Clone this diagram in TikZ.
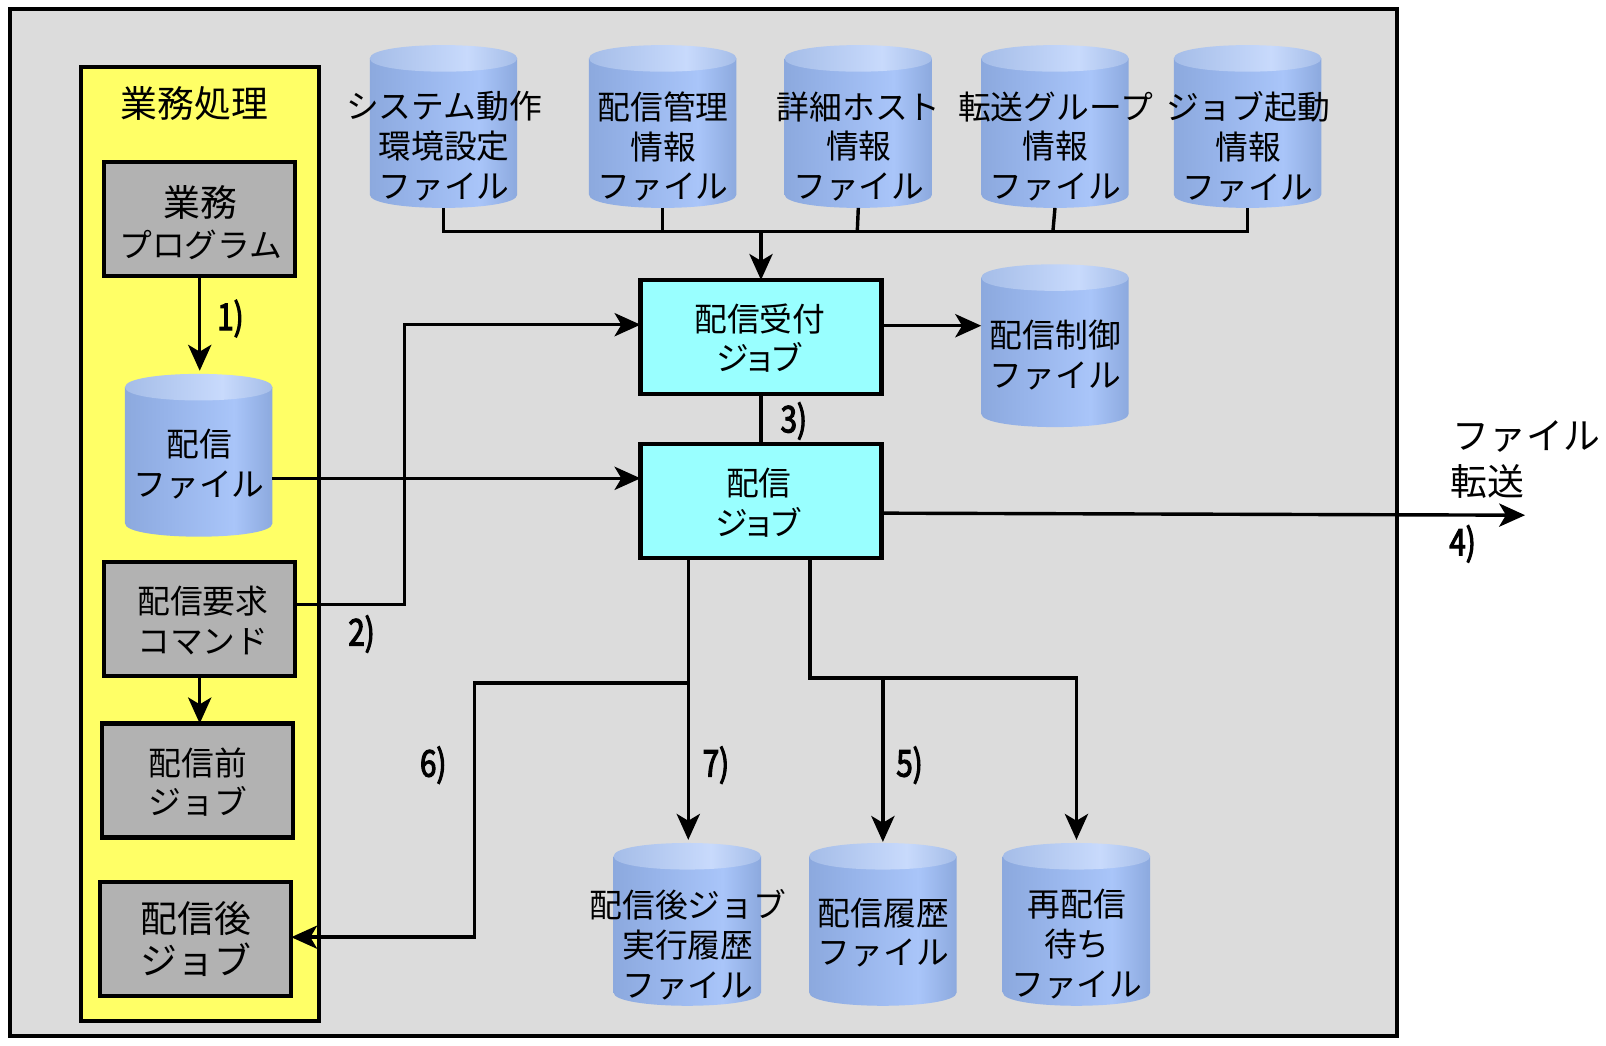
\documentclass[tikz,border=0pt]{standalone}
\usepackage{fontspec}
\setmainfont{Noto Sans CJK JP}
\newfontfamily\numfont[FakeStretch=0.8,FakeBold=3]{Noto Sans CJK JP}
\usetikzlibrary{arrows.meta,calc}
\definecolor{framegray}{HTML}{DCDCDC}
\definecolor{bandyellow}{HTML}{FFFF66}
\definecolor{boxgray}{HTML}{B2B2B2}
\definecolor{jobcyan}{HTML}{99FFFF}
\definecolor{cylA}{HTML}{8CA9DE}
\definecolor{cylB}{HTML}{97B4EA}
\definecolor{cylC}{HTML}{A9C5F9}
\definecolor{cylD}{HTML}{A5BDE8}
\definecolor{cylE}{HTML}{C8DAFC}
\pgfdeclarehorizontalshading{cylbody}{100bp}{
  color(0bp)=(cylA); color(25bp)=(cylA); color(40bp)=(cylB); color(62bp)=(cylC); color(75bp)=(cylA); color(100bp)=(cylA)}
\pgfdeclarehorizontalshading{cyltop}{100bp}{
  color(0bp)=(cylD); color(25bp)=(cylD); color(58bp)=(cylE); color(75bp)=(cylD); color(100bp)=(cylD)}
% name, centre x, top y, text y, text
\newcommand{\drum}[5]{%
  \pgfmathsetmacro{\xl}{#2-72}\pgfmathsetmacro{\xr}{#2+72}%
  \pgfmathsetmacro{\yt}{#3+13}\pgfmathsetmacro{\ytt}{#3-4.3}\pgfmathsetmacro{\ytb}{#3+30.3}%
  \pgfmathsetmacro{\yb}{#3+159-13}\pgfmathsetmacro{\ybb}{#3+159+4.3}%
  \shade[shading=cylbody] (\xl,\yt) -- (\xl,\yb) .. controls (\xl,\ybb) and (\xr,\ybb) .. (\xr,\yb) -- (\xr,\yt) -- cycle;
  \shade[shading=cyltop] (\xl,\yt) .. controls (\xl,\ytt) and (\xr,\ytt) .. (\xr,\yt) .. controls (\xr,\ytb) and (\xl,\ytb) .. (\xl,\yt) -- cycle;
  \node[drumbox] (#1) at (#2,#3+79.5) {};
  \node[lbl] (#1-t) at (#2+0.5,#4) {#5};
}
\newcommand{\tightjob}{ジ\kern-4.5ptョ\kern-4.5ptブ}
\tikzset{
  lbl/.style={align=center,inner sep=0pt,font=\fontsize{24}{29.25}\selectfont},
  lblbig/.style={align=center,inner sep=0pt,font=\fontsize{27}{31}\selectfont},
  num/.style={inner sep=0pt,font=\numfont\fontsize{27}{30}\selectfont},
  drumbox/.style={inner sep=0pt,outer sep=0pt,minimum width=108pt,minimum height=119.25pt},
  graybox/.style={draw,line width=3pt,fill=boxgray,inner sep=0pt,outer sep=0pt,minimum width=140pt,minimum height=83.5pt},
  jobbox/.style={draw,line width=3pt,fill=jobcyan,inner sep=0pt,outer sep=0pt,minimum width=176.5pt,minimum height=83.5pt},
  conn/.style={line width=2.5pt,line join=miter},
  arr/.style={conn,-{Stealth[length=19pt,width=17pt,inset=5pt]}},
}
\begin{document}
\begin{tikzpicture}[x=0.75pt,y=-0.75pt]
\useasboundingbox (0,0) rectangle (1568,1020.3);
\node[draw,line width=3pt,fill=framegray,inner sep=0pt,outer sep=0pt,minimum width=1016pt,minimum height=752pt] (frame) at (687,510.5) {};
\node[draw,line width=3pt,fill=bandyellow,inner sep=0pt,outer sep=0pt,minimum width=174.5pt,minimum height=699pt] (band) at (195,531) {};
\node[lblbig] (title) at (190,101) {業務処理};

\node[graybox] (prog) at (195,214) {};
\node[graybox] (req) at (195,604) {};
\node[graybox] (pre) at (193,762) {};
\node[graybox] (post) at (191,916.5) {};
\node[jobbox] (recv) at (743,329) {};
\node[jobbox] (dist) at (743,489.5) {};
\node[lbl,font=\fontsize{24}{30}\selectfont] (prog-t) at (196,217) {{\fontsize{27}{30}\selectfont 業務}\\プログラム};
\node[lbl,font=\fontsize{24}{29}\selectfont] (req-t) at (198,606) {配信要求\\コマンド};
\node[lbl,font=\fontsize{24}{28.5}\selectfont] (pre-t) at (193,764) {配信前\\ジョブ};
\node[lblbig] (post-t) at (191.5,917) {配信後\\ジョブ};
\node[lbl,font=\fontsize{24}{28.5}\selectfont] (recv-t) at (742,330.5) {配信受付\\\tightjob};
\node[lbl,font=\fontsize{24}{29}\selectfont] (dist-t) at (741,491) {配信\\\tightjob};

\drum{sys}{433}{44}{143}{システム動作\\環境設定\\ファイル}
\drum{mgmt}{647}{44}{143}{配信管理\\情報\\ファイル}
\drum{host}{838}{44}{143}{詳細ホスト\\情報\\ファイル}
\drum{group}{1030}{44}{143}{転送グループ\\情報\\ファイル}
\drum{start}{1218}{44}{143}{ジョブ起動\\情報\\ファイル}
\drum{ctrl}{1030}{258}{346.5}{配信制御\\ファイル}
\drum{dfile}{194}{365}{453.5}{配信\\ファイル}
\drum{pjob}{671}{823}{922}{配信後ジョブ\\実行履歴\\ファイル}
\drum{hist}{862}{823}{910.5}{配信履歴\\ファイル}
\drum{wait}{1051}{823}{922}{再配信\\待ち\\ファイル}

% collector above the reception job
\coordinate (busL) at (sys.south |- 0,226);
\coordinate (busR) at (start.south |- 0,226);
\draw[conn] (sys.south) -- (busL) -- (busR) -- (start.south);
\draw[conn] (mgmt.south) -- (mgmt.south |- busL);
\draw[conn] (host.south) -- ($(host.south |- busL)+(-1,0)$);
\draw[conn] (group.south) -- ($(group.south |- busL)+(-2,0)$);
\draw[arr] (recv.north |- busL) -- (recv.north);

\draw[arr] (prog.south) -- ($(dfile.north)+(1,-3)$);
\coordinate (reqOut) at (req.east |- 0,590);
\coordinate (recvIn) at (recv.west |- 0,317);
\draw[arr] (reqOut) -- (395,590) -- (395,317) -- (recvIn);
\draw[arr] (dfile.east |- 0,467) -- (dist.west |- 0,467);
\draw[arr] (recv.east |- 0,318) -- (ctrl.west |- 0,318);
\draw[conn] (recv.south) -- (dist.north);
\coordinate (xfer) at (1489,503);
\draw[arr] (dist.east |- 0,501) -- (xfer);
\draw[arr] (req.south) -- (pre.north -| req.south);

\coordinate (d1) at (dist.south -| pjob.north);
\draw[arr] ($(d1)+(1,0)$) -- ($(pjob.north)+(1,-3)$);
\draw[arr] (672,667) -- (463,667) -- (463,915) -- (post.east |- 0,915);
\coordinate (d2) at (791,545);
\coordinate (fork) at (791,662);
\draw[arr] (d2) -- (fork) -- (1051,662) -- ($(wait.north)+(0,-3)$);
\draw[arr] (hist.north |- fork) -- ($(hist.north)+(0,-1)$);

\node[num] (n1) at (225,311) {1)};
\node[num] (n2) at (353,619) {2)};
\node[num] (n3) at (775,411) {3)};
\node[num] (n4) at (1428,531) {4)};
\node[num] (n5) at (888,747) {5)};
\node[num] (n6) at (423,747) {6)};
\node[num] (n7) at (699,747) {7)};
\node[lblbig,anchor=west] (xf1) at (1418,426) {ファイル};
\node[lblbig,anchor=west] (xf2) at (1416,470) {転送};
\end{tikzpicture}
\end{document}
